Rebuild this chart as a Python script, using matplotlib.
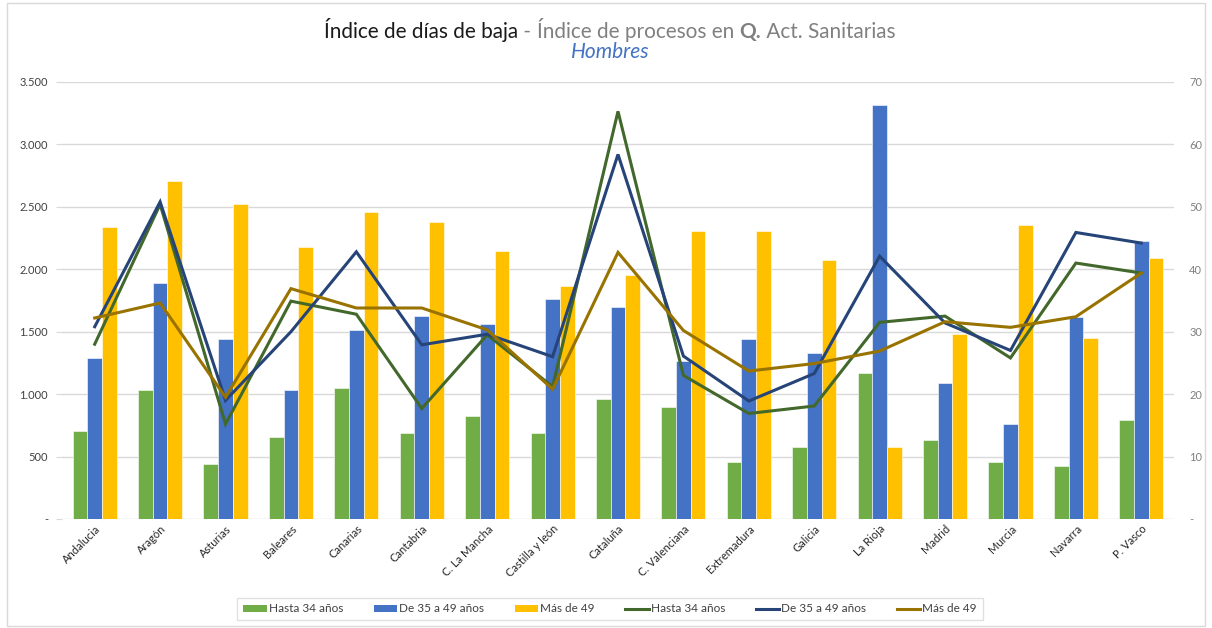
import matplotlib
matplotlib.use("Agg")
import matplotlib.pyplot as plt
import numpy as np
from matplotlib.patches import Rectangle
from matplotlib.lines import Line2D
from matplotlib.patches import Patch

categories = ["Andalucia", "Aragón", "Asturias", "Baleares", "Canarias", "Cantabria",
              "C. La Mancha", "Castilla y león", "Cataluña", "C. Valenciana", "Extremadura",
              "Galicia", "La Rioja", "Madrid", "Murcia", "Navarra", "P. Vasco"]

# Bars: Índice de días de baja (left axis)
dias_hasta34 = [705, 1034, 441, 657, 1050, 689, 825, 689, 962, 897, 457, 577, 1170, 630, 459, 422, 793]
dias_35a49 = [1290, 1891, 1442, 1034, 1514, 1627, 1562, 1763, 1699, 1266, 1442, 1330, 3317, 1093, 759, 1619, 2228]
dias_mas49 = [2340, 2708, 2524, 2179, 2460, 2380, 2147, 1867, 1955, 2308, 2308, 2075, 578, 1481, 2352, 1446, 2093]

# Lines: Índice de procesos (right axis)
proc_hasta34 = [28.0, 50.4, 15.2, 34.9, 32.8, 17.7, 29.5, 21.2, 65.3, 23.0, 16.9, 18.1, 31.5, 32.5, 25.8, 41.0, 39.4]
proc_35a49 = [30.8, 50.8, 19.0, 30.0, 42.8, 27.9, 29.6, 26.0, 58.4, 26.1, 18.9, 23.3, 42.1, 31.4, 27.0, 45.9, 44.2]
proc_mas49 = [32.2, 34.6, 19.5, 36.9, 33.8, 33.8, 30.3, 20.8, 42.7, 30.2, 23.7, 24.9, 26.9, 31.6, 30.7, 32.4, 39.4]

series_labels = ["Hasta 34 años", "De 35 a 49 años", "Más de 49"]
left_ticks = [0, 500, 1000, 1500, 2000, 2500, 3000, 3500]
right_ticks = [0, 10, 20, 30, 40, 50, 60, 70]

bar_colors = ["#70AD47", "#4472C4", "#FFC000"]
line_colors = ["#43682B", "#264478", "#997300"]

FONT = ["Lato", "DejaVu Sans"]

fig = plt.figure(figsize=(12.12, 6.28), dpi=100)
fig.patch.set_facecolor("white")
W, H = 1212, 628
ax = fig.add_axes([62 / W, 1 - 519 / H, (1174 - 62) / W, (519 - 82) / H])
ax2 = ax.twinx()

x = np.arange(len(categories))
bw = 0.225
for k, vals in enumerate([dias_hasta34, dias_35a49, dias_mas49]):
    ax.bar(x + (k - 1) * bw, vals, width=bw, color=bar_colors[k], zorder=2,
           edgecolor="white", linewidth=0.4)

for k, vals in enumerate([proc_hasta34, proc_35a49, proc_mas49]):
    ax2.plot(x, vals, color=line_colors[k], linewidth=2.2, solid_joinstyle="miter", zorder=3)

ax.set_xlim(-0.5, len(categories) - 0.5)
ax.set_ylim(0, 3500)
ax2.set_ylim(0, 70)
ax.set_yticks(left_ticks)
ax.set_yticklabels(["-" if v == 0 else f"{v:,}".replace(",", ".") for v in left_ticks],
                   fontsize=8, color="#404040", family=FONT)
ax2.set_yticks(right_ticks)
ax2.set_yticklabels(["-" if v == 0 else str(v) for v in right_ticks],
                    fontsize=8, color="#808080", family=FONT)
ax.yaxis.grid(True, color="#D9D9D9", linewidth=1.0, zorder=0)
ax.set_axisbelow(True)
for a in (ax, ax2):
    for s in a.spines.values():
        s.set_visible(False)
ax.tick_params(axis="y", length=4, color="#D9D9D9", pad=6)
ax2.tick_params(axis="y", length=0, pad=11)
ax.tick_params(axis="x", length=0, pad=3)
ax.set_xticks(x)
ax.set_xticklabels(categories, rotation=45, ha="right", rotation_mode="anchor",
                   fontsize=8, color="#262626", family=FONT)

# Title composed of pieces
renderer = fig.canvas.get_renderer()
pieces = [("Índice de días de baja", "#1a1a1a", "normal"),
          (" - ", "#808080", "normal"),
          ("Índice de procesos en ", "#808080", "normal"),
          ("Q.", "#808080", "bold"),
          (" Act. Sanitarias", "#808080", "normal")]
fs = 16
texts = []
for s, c, wgt in pieces:
    t = fig.text(0, 0, s, fontsize=fs, color=c, fontweight=wgt, family=FONT,
                 transform=None, va="baseline")
    texts.append(t)
widths = [t.get_window_extent(renderer).width for t in texts]
total = sum(widths)
scale = 575.0 / total
for t in texts:
    t.set_fontsize(fs * scale)
widths = [t.get_window_extent(renderer).width for t in texts]
total = sum(widths)
xs = 610 - total / 2
for t, w in zip(texts, widths):
    t.set_position((xs, H - 38))
    xs += w

fig.text(610 / W, 1 - 52 / H, "Hombres", fontsize=15, color="#4472C4", style="italic",
         ha="center", va="center", family=FONT)

# Legend
handles = [Patch(facecolor=bar_colors[k], edgecolor="none") for k in range(3)] + \
          [Line2D([0], [0], color=line_colors[k], linewidth=2.2) for k in range(3)]
labels = series_labels + series_labels
leg = fig.legend(handles, labels, loc="center", bbox_to_anchor=(610 / W, 1 - 609 / H),
                 ncol=6, frameon=True, fancybox=False, edgecolor="#D9D9D9",
                 handlelength=2.0, handleheight=0.5, handletextpad=0.15, columnspacing=2.6,
                 borderpad=0.5, prop={"family": FONT, "size": 8.5})
leg.get_frame().set_linewidth(1.0)
for t in leg.get_texts():
    t.set_color("#404040")

# chart border
fig.patches.append(Rectangle((7 / W, 2 / H), 1 - 14 / W, 1 - 5 / H, transform=fig.transFigure,
                             fill=False, edgecolor="#D9D9D9", linewidth=1.0))

fig.savefig("out.png", dpi=100, facecolor="white")
